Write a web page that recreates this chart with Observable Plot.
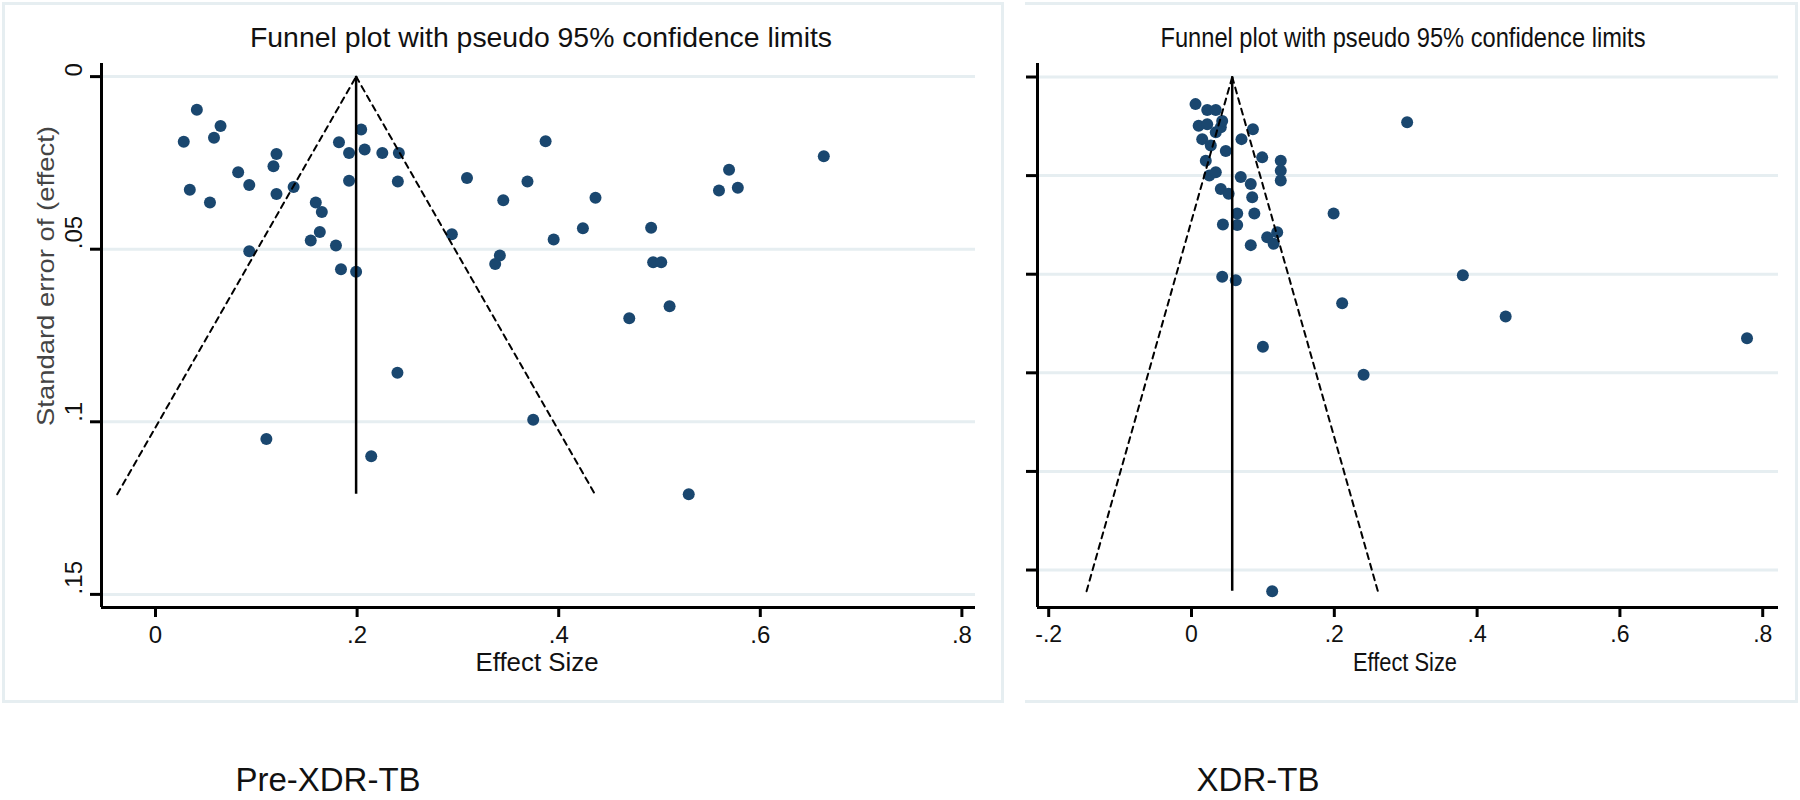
<!DOCTYPE html>
<html>
<head>
<meta charset="utf-8">
<script src="https://cdn.jsdelivr.net/npm/d3@7"></script>
<script src="https://cdn.jsdelivr.net/npm/@observablehq/plot@0.6"></script>
<style>
  body { margin: 0; background: #fff; }
  #wrap { position: relative; width: 1800px; height: 800px; overflow: hidden; background: #fff; }
  .panel { position: absolute; top: 0; }
  .border { position: absolute; box-sizing: border-box; border: 3px solid #e6eef1; }
  #overlay { position: absolute; left: 0; top: 0; pointer-events: none; }
</style>
</head>
<body>
<div id="wrap">
  <div class="border" style="left:2px;top:2px;width:1002px;height:701px;"></div>
  <div class="border" style="left:1025px;top:2px;width:773px;height:701px;border-left:none;"></div>
  <div class="panel" id="left" style="left:0px;"></div>
  <div class="panel" id="right" style="left:1003px;"></div>
</div>
<script>
// ---------- Data: Pre-XDR-TB (left panel) ----------
const preXdrEffect = [
  0.041, 0.0645, 0.058, 0.028, 0.082, 0.093, 0.034, 0.054, 0.12, 0.117,
  0.12, 0.137, 0.159, 0.165, 0.163, 0.154, 0.093, 0.179, 0.184, 0.182,
  0.192, 0.192, 0.204, 0.199, 0.2075, 0.225, 0.2414, 0.2404, 0.309, 0.387,
  0.369, 0.345, 0.4365, 0.294, 0.395, 0.424, 0.3416, 0.337, 0.663, 0.569,
  0.559, 0.5777, 0.4917, 0.4937, 0.5017, 0.51, 0.3747, 0.529, 0.11, 0.214,
  0.24, 0.47
];
const preXdrSE = [
  0.0096, 0.0143, 0.0177, 0.0189, 0.0277, 0.0314, 0.0328, 0.0365, 0.0224, 0.026,
  0.034, 0.032, 0.0365, 0.0392, 0.045, 0.0475, 0.0506, 0.0489, 0.0558, 0.019,
  0.0221, 0.0302, 0.0153, 0.0565, 0.0211, 0.0221, 0.0221, 0.0304, 0.0294, 0.0187,
  0.0304, 0.0358, 0.0351, 0.0457, 0.0472, 0.0439, 0.0518, 0.0543, 0.0231, 0.027,
  0.033, 0.0322, 0.0438, 0.0538, 0.0538, 0.0665, 0.0994, 0.121, 0.105, 0.11,
  0.0858, 0.070
];
// pooled estimate and pseudo 95% limits
const preXdrPooled = 0.199;
const preXdrMaxSE = 0.121;
const preXdrLimits = [-0.038, 0.436];

// ---------- Data: XDR-TB (right panel) ----------
const xdrEffect = [
  0.0056, 0.022, 0.034, 0.010, 0.022, 0.034, 0.015, 0.027, 0.041, 0.043,
  0.048, 0.020, 0.025, 0.034, 0.041, 0.052, 0.069, 0.083, 0.085, 0.070,
  0.086, 0.099, 0.125, 0.125, 0.125, 0.088, 0.064, 0.064, 0.044, 0.083,
  0.106, 0.115, 0.120, 0.199, 0.043, 0.062, 0.211, 0.100, 0.241, 0.302,
  0.380, 0.440, 0.778, 0.113
];
const xdrSE = [
  0.0055, 0.0067, 0.0067, 0.0099, 0.0096, 0.0112, 0.0126, 0.0139, 0.0102, 0.0089,
  0.015, 0.017, 0.020, 0.0193, 0.0227, 0.0237, 0.0203, 0.0217, 0.0244, 0.0126,
  0.0106, 0.0163, 0.017, 0.019, 0.021, 0.0277, 0.0277, 0.030, 0.0299, 0.0341,
  0.0325, 0.0338, 0.0315, 0.0277, 0.0405, 0.0412, 0.0459, 0.0547, 0.0604, 0.0092,
  0.0402, 0.0486, 0.053, 0.1043
];
const xdrPooled = 0.057;
const xdrMaxSE = 0.1043;
const xdrLimits = [-0.147, 0.261];

// ---------- Axis ticks / labels ----------
const titleText = "Funnel plot with pseudo 95% confidence limits";
const xLabel = "Effect Size";
const yLabel = "Standard error of (effect)";
const leftXTicks = [0, 0.2, 0.4, 0.6, 0.8];
const leftYTicks = [0, 0.05, 0.1, 0.15];
const rightXTicks = [-0.2, 0, 0.2, 0.4, 0.6, 0.8];
const rightYTicks = [0, 0.02, 0.04, 0.06, 0.08, 0.1];
const captions = ["Pre-XDR-TB", "XDR-TB"];

// scale extents of the plot regions
const leftXDomain = [-0.0536, 0.8135];
const leftYDomain = [-0.0038, 0.1538];
const rightXDomain = [-0.2157, 0.8221];
const rightYDomain = [-0.00274, 0.1076];

const NAVY = "#1a476f";
const GRID = "#e6eef1";
const fmt = d => d === 0 ? "0" : String(d).replace("0.", ".");

function funnel(effect, se, pooled, maxSE, limits, xDomain, yDomain, xTicks, yTicks, opts) {
  const pts = effect.map((e, i) => ({x: e, y: se[i]}));
  const funnelL = [{x: limits[0], y: maxSE}, {x: pooled, y: 0}];
  const funnelR = [{x: pooled, y: 0}, {x: limits[1], y: maxSE}];
  const marks = [
    Plot.ruleY(yTicks, {stroke: GRID, strokeWidth: 3}),
    Plot.dot(pts, {x: "x", y: "y", r: 6, fill: NAVY, stroke: "none", symbol: "circle"}),
    Plot.line(funnelL, {x: "x", y: "y", stroke: "#000", strokeWidth: 2, strokeDasharray: "6,5"}),
    Plot.line(funnelR, {x: "x", y: "y", stroke: "#000", strokeWidth: 2, strokeDasharray: "6,5"}),
    Plot.ruleX([pooled], {y1: 0, y2: maxSE, stroke: "#000", strokeWidth: 2.5}),
    Plot.ruleX([xDomain[0]], {stroke: "#000", strokeWidth: 3}),
    Plot.ruleY([yDomain[1]], {stroke: "#000", strokeWidth: 3}),
    Plot.axisX({ticks: xTicks, tickFormat: fmt, tickSize: 10, tickPadding: 8, strokeWidth: 3, stroke: "#000", fill: "#111", fontSize: opts.tickFs, label: null}),
    Plot.axisY({ticks: yTicks, tickFormat: () => "", tickSize: 11, strokeWidth: 3, stroke: "#000", label: null})
  ];
  if (opts.yLabels) {
    marks.push(Plot.text(yTicks, {y: d => d, text: d => fmt(d), frameAnchor: "left", dx: -27, rotate: -90, fontSize: 24, fill: "#111"}));
  }
  return Plot.plot({
    width: opts.width, height: 702,
    marginLeft: opts.ml, marginRight: opts.mr, marginTop: 63, marginBottom: 95,
    x: {domain: xDomain, label: null},
    y: {domain: yDomain, reverse: true, label: null},
    style: {fontFamily: "'Liberation Sans', Arial, sans-serif", background: "transparent", overflow: "visible"},
    marks
  });
}

document.getElementById("left").appendChild(
  funnel(preXdrEffect, preXdrSE, preXdrPooled, preXdrMaxSE, preXdrLimits, leftXDomain, leftYDomain, leftXTicks, leftYTicks,
    {width: 1003, ml: 101, mr: 28, yLabels: true, tickFs: 24})
);
document.getElementById("right").appendChild(
  funnel(xdrEffect, xdrSE, xdrPooled, xdrMaxSE, xdrLimits, rightXDomain, rightYDomain, rightXTicks, rightYTicks,
    {width: 797, ml: 34, mr: 22, yLabels: false, tickFs: 23})
);

// ---------- Text overlay (titles, axis titles, captions) ----------
const svg = d3.select("#wrap").append("svg").attr("id", "overlay")
  .attr("width", 1800).attr("height", 800)
  .style("font-family", "'Liberation Sans', Arial, sans-serif");
const texts = [
  {t: titleText, x: 541, y: 47, fs: 28, len: 582},
  {t: titleText, x: 1403, y: 47, fs: 28, len: 485},
  {t: xLabel, x: 537, y: 671, fs: 25, len: 123},
  {t: xLabel, x: 1405, y: 671, fs: 25, len: 104},
  {t: captions[0], x: 328, y: 791, fs: 33, len: null},
  {t: captions[1], x: 1258, y: 791, fs: 33, len: null}
];
texts.forEach(d => {
  const el = svg.append("text").attr("x", d.x).attr("y", d.y)
    .attr("text-anchor", "middle").attr("font-size", d.fs).attr("fill", "#111").text(d.t);
  if (d.len) el.attr("textLength", d.len).attr("lengthAdjust", "spacingAndGlyphs");
});
svg.append("text").attr("transform", "translate(54,276) rotate(-90)")
  .attr("text-anchor", "middle").attr("font-size", 24).attr("fill", "#444")
  .attr("textLength", 300).attr("lengthAdjust", "spacingAndGlyphs").text(yLabel);
</script>
</body>
</html>
